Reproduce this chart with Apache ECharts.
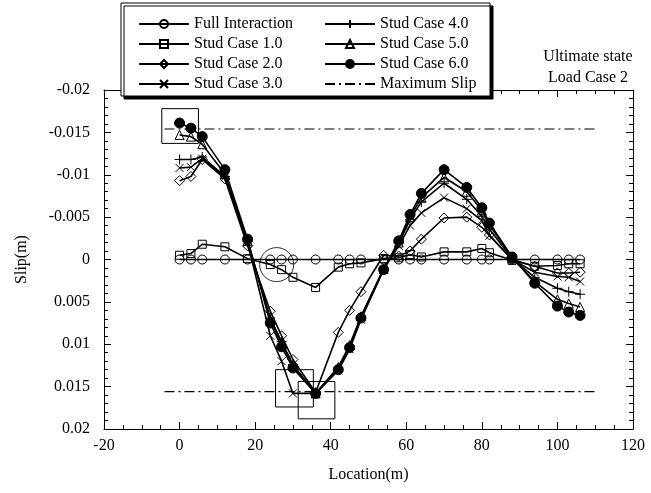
<!DOCTYPE html>
<html>
<head>
<meta charset="utf-8">
<script src="https://cdn.jsdelivr.net/npm/echarts@6/dist/echarts.min.js"></script>
<style>
  html, body { margin: 0; padding: 0; background: #fff; }
  #chart { width: 651px; height: 493px; }
</style>
</head>
<body>
<div id="chart"></div>
<script>
// Location of each measuring point along the girder (m)
const locations = [0, 3, 6, 12, 18, 24, 27, 30, 36, 42, 45, 48, 54, 58, 61, 64, 70, 76, 80, 82, 88, 94, 100, 103, 106];

// Interface slip (m) for each connection case
const fullInteraction = [0, 0, 0, 0, 0, 0, 0, 0, 0, 0, 0, 0, 0, 0, 0, 0, 0, 0, 0, 0, 0, 0, 0, 0, 0];
const studCase1 = [-0.0005, -0.0007, -0.0018, -0.0015, -0.0001, 0.0006, 0.0012, 0.0021, 0.0033, 0.0009, 0.0005, 0.0004, -0.0001, -0.0002, -0.0006, -0.0003, -0.0009, -0.0009, -0.0013, -0.0008, 0.0001, 0.0008, 0.0007, 0.0005, 0.0005];
const studCase2 = [-0.0093, -0.0098, -0.0118, -0.0095, -0.0016, 0.0061, 0.0090, 0.0118, 0.0157, 0.0086, 0.0060, 0.0038, -0.0005, -0.0004, -0.0010, -0.0024, -0.0049, -0.0050, -0.0038, -0.0029, 0.0000, 0.0008, 0.0016, 0.0016, 0.0015];
const studCase3 = [-0.0108, -0.0109, -0.0119, -0.0097, -0.0020, 0.0090, 0.0120, 0.0158, 0.0158, 0.0131, 0.0106, 0.0071, 0.0012, -0.0016, -0.0040, -0.0055, -0.0073, -0.0060, -0.0046, -0.0028, 0.0000, 0.0015, 0.0020, 0.0021, 0.0026];
const studCase4 = [-0.0118, -0.0118, -0.0121, -0.0098, -0.0021, 0.0069, 0.0097, 0.0124, 0.0158, 0.0128, 0.0103, 0.0068, 0.0011, -0.0019, -0.0047, -0.0068, -0.0090, -0.0071, -0.0051, -0.0036, -0.0001, 0.0021, 0.0034, 0.0038, 0.0041];
const studCase5 = [-0.0147, -0.0145, -0.0136, -0.0101, -0.0022, 0.0071, 0.0099, 0.0125, 0.0158, 0.0127, 0.0101, 0.0067, 0.0011, -0.0020, -0.0050, -0.0073, -0.0097, -0.0080, -0.0058, -0.0041, -0.0002, 0.0026, 0.0047, 0.0052, 0.0056];
const studCase6 = [-0.0161, -0.0155, -0.0145, -0.0106, -0.0024, 0.0075, 0.0103, 0.0128, 0.0158, 0.0130, 0.0104, 0.0069, 0.0012, -0.0022, -0.0053, -0.0078, -0.0106, -0.0085, -0.0061, -0.0043, -0.0003, 0.0028, 0.0055, 0.0062, 0.0066];

// Allowable slip limits and the span over which they are drawn
const maxSlipSpan = [-4, 110];
const maxSlipNegative = -0.0154;
const maxSlipPositive = 0.0156;

// Highlighted regions: boxes [x0, y0, x1, y1] and a ring [x, y]
const highlightBoxes = [
  [-4.7, -0.0178, 5, -0.0137],
  [25.4, 0.0130, 35.4, 0.0174],
  [31.4, 0.0144, 41.1, 0.0188]
];
const highlightRing = [25.7, 0.0006];

// Axis ticks
const xTicks = { min: -20, max: 120, step: 20 };
const yTicks = { min: -0.02, max: 0.02, step: 0.005 };

const FONT = 'Liberation Serif';
const pairs = (ys) => locations.map((x, i) => [x, ys[i]]);

const plus = 'path://M0,5L10,5M5,0L5,10';
const cross = 'path://M0,0L10,10M10,0L0,10';

function lineSeries(name, ys, symbol, size, filled) {
  return {
    name: name,
    type: 'line',
    data: pairs(ys),
    symbol: symbol,
    symbolSize: size,
    showAllSymbol: true,
    lineStyle: { color: '#000', width: 1.6 },
    itemStyle: {
      color: filled ? '#000' : 'rgba(255,255,255,0)',
      borderColor: '#000',
      borderWidth: 1
    },
    emphasis: { disabled: true },
    z: 2
  };
}

const chart = echarts.init(document.getElementById('chart'), null, { renderer: 'canvas' });

const baseAxisLabel = { color: '#000', fontFamily: FONT, fontSize: 16 };
const frameLine = { onZero: false, lineStyle: { color: '#000', width: 1 } };
const majorTick = { inside: true, length: 7, lineStyle: { color: '#000' } };

const option = {
  backgroundColor: '#fff',
  animation: false,
  title: {
    text: 'Ultimate state\nLoad Case 2',
    left: 583,
    top: 41,
    textAlign: 'center',
    textStyle: { fontFamily: FONT, fontSize: 16, fontWeight: 'normal', color: '#000', lineHeight: 21 }
  },
  graphic: [{
    type: 'rect',
    shape: { x: 121, y: 3, width: 369, height: 93 },
    style: { fill: '#fff', stroke: '#000', lineWidth: 1, shadowColor: '#000', shadowOffsetX: 3, shadowOffsetY: 3, shadowBlur: 0 },
    z: 5
  }],
  legend: [
    {
      data: ['Full Interaction', 'Stud Case 1.0', 'Stud Case 2.0', 'Stud Case 3.0'],
      orient: 'vertical', left: 133, top: 9, itemWidth: 50, itemHeight: 10, itemGap: 0,
      textStyle: { fontFamily: FONT, fontSize: 16, color: '#000', lineHeight: 20 },
      selectedMode: false, z: 6
    },
    {
      data: ['Stud Case 4.0', 'Stud Case 5.0', 'Stud Case 6.0',
        { name: 'Maximum Slip', itemStyle: { opacity: 0 } }],
      orient: 'vertical', left: 319, top: 9, itemWidth: 50, itemHeight: 10, itemGap: 0,
      textStyle: { fontFamily: FONT, fontSize: 16, color: '#000', lineHeight: 20 },
      selectedMode: false, z: 6
    }
  ],
  grid: { left: 104, right: 18, top: 90, bottom: 64 },
  xAxis: [
    {
      type: 'value', min: xTicks.min, max: xTicks.max, interval: xTicks.step,
      name: 'Location(m)', nameLocation: 'middle', nameGap: 38,
      nameTextStyle: { fontFamily: FONT, fontSize: 16, color: '#000' },
      axisLine: frameLine,
      axisTick: majorTick,
      minorTick: { show: true, splitNumber: 4, length: 4, lineStyle: { color: '#000' } },
      splitLine: { show: false },
      axisLabel: Object.assign({ margin: 9 }, baseAxisLabel)
    },
    {
      type: 'value', position: 'top', min: xTicks.min, max: xTicks.max, interval: xTicks.step,
      axisLine: frameLine,
      axisTick: majorTick,
      minorTick: { show: true, splitNumber: 4, length: 4, lineStyle: { color: '#000' } },
      splitLine: { show: false },
      axisLabel: { show: false }
    }
  ],
  yAxis: [
    {
      type: 'value', inverse: true, min: yTicks.min, max: yTicks.max, interval: yTicks.step,
      name: 'Slip(m)', nameLocation: 'middle', nameGap: 74,
      nameTextStyle: { fontFamily: FONT, fontSize: 16, color: '#000' },
      axisLine: frameLine,
      axisTick: majorTick,
      minorTick: { show: true, splitNumber: 5, length: 4, lineStyle: { color: '#000' } },
      splitLine: { show: false },
      axisLabel: Object.assign({ margin: 14, formatter: (v) => String(+v.toFixed(3)) }, baseAxisLabel)
    },
    {
      type: 'value', position: 'right', inverse: true, min: yTicks.min, max: yTicks.max, interval: yTicks.step,
      axisLine: frameLine,
      axisTick: majorTick,
      minorTick: { show: true, splitNumber: 5, length: 4, lineStyle: { color: '#000' } },
      splitLine: { show: false },
      axisLabel: { show: false }
    }
  ],
  series: [
    lineSeries('Full Interaction', fullInteraction, 'circle', 9, false),
    lineSeries('Stud Case 1.0', studCase1, 'rect', 8, false),
    lineSeries('Stud Case 2.0', studCase2, 'diamond', 10, false),
    lineSeries('Stud Case 3.0', studCase3, cross, 8, false),
    lineSeries('Stud Case 4.0', studCase4, plus, 10, false),
    lineSeries('Stud Case 5.0', studCase5, 'triangle', 9, false),
    Object.assign(lineSeries('Stud Case 6.0', studCase6, 'circle', 10, true), {
      markArea: {
        silent: true,
        label: { show: false },
        itemStyle: { color: 'rgba(0,0,0,0)', borderColor: '#000', borderWidth: 1 },
        data: highlightBoxes.map((b) => [{ coord: [b[0], b[1]] }, { coord: [b[2], b[3]] }])
      }
    }),
    {
      name: 'Maximum Slip', type: 'line', symbol: 'none',
      data: [[maxSlipSpan[0], maxSlipNegative], [maxSlipSpan[1], maxSlipNegative]],
      lineStyle: { color: '#000', width: 1.2, type: [10, 4, 2, 4] },
      itemStyle: { color: '#000' }, emphasis: { disabled: true }, z: 1
    },
    {
      name: 'Maximum Slip', type: 'line', symbol: 'none',
      data: [[maxSlipSpan[0], maxSlipPositive], [maxSlipSpan[1], maxSlipPositive]],
      lineStyle: { color: '#000', width: 1.2, type: [10, 4, 2, 4] },
      itemStyle: { color: '#000' }, emphasis: { disabled: true }, z: 1
    },
    {
      name: 'ring', type: 'scatter', data: [highlightRing], symbol: 'circle', symbolSize: 34,
      itemStyle: { color: 'rgba(0,0,0,0)', borderColor: '#000', borderWidth: 1 },
      emphasis: { disabled: true }, silent: true, z: 3
    }
  ]
};

chart.setOption(option);
</script>
</body>
</html>
